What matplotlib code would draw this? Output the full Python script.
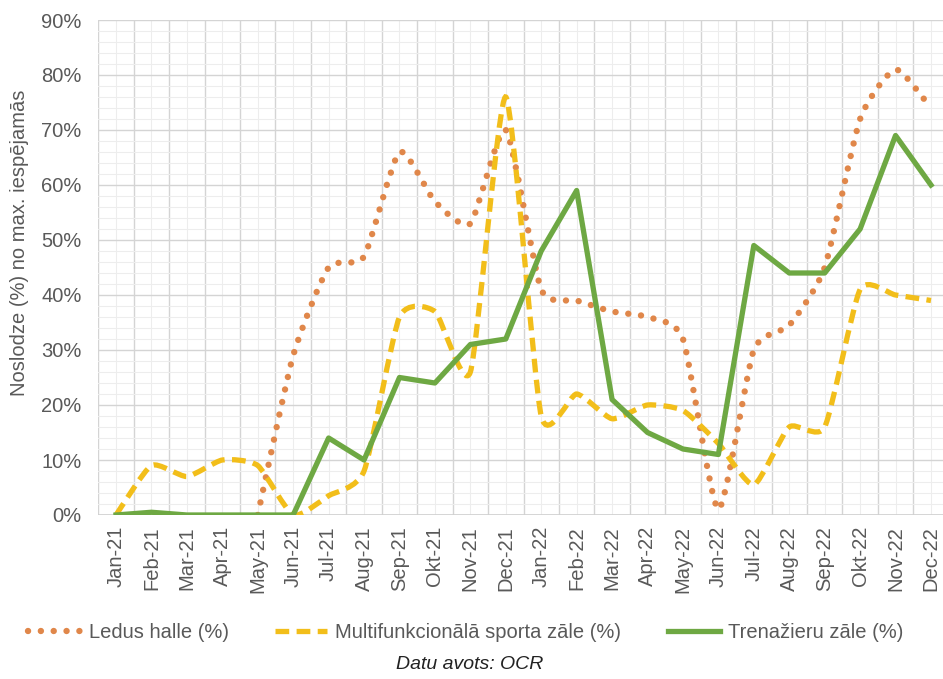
import numpy as np
import matplotlib
matplotlib.use('Agg')
import matplotlib.pyplot as plt
from matplotlib.path import Path
from matplotlib.patches import PathPatch
from matplotlib.lines import Line2D
from matplotlib.ticker import MultipleLocator, FixedLocator, PercentFormatter

months = ['Jan-21', 'Feb-21', 'Mar-21', 'Apr-21', 'May-21', 'Jun-21', 'Jul-21', 'Aug-21',
          'Sep-21', 'Okt-21', 'Nov-21', 'Dec-21', 'Jan-22', 'Feb-22', 'Mar-22', 'Apr-22',
          'May-22', 'Jun-22', 'Jul-22', 'Aug-22', 'Sep-22', 'Okt-22', 'Nov-22', 'Dec-22']

# noslodze, % no max. iespējamās
ledus_halle = [None, None, None, None, 0, 29, 45, 47, 66, 57, 53, 70,
               41, 39, 37, 36, 32, 1, 30, 34.5, 45, 72, 81, 74]
multifunkc = [0, 9, 7, 10, 9, 0, 3.5, 8, 36, 37, 26, 76,
              18, 22, 17.5, 20, 19, 13, 5.5, 16, 16, 41, 40, 39]
trenazieri = [0, 0.5, 0, 0, 0, 0, 14, 10, 25, 24, 31, 32,
              48, 59, 21, 15, 12, 11, 49, 44, 44, 52, 69, 60]

series_names = ['Ledus halle (%)', 'Multifunkcionālā sporta zāle (%)', 'Trenažieru zāle (%)']

plt.rcParams['font.family'] = ['Liberation Sans', 'DejaVu Sans']
FS = 14.5

GREY = '#595959'
ORANGE = '#E0874A'
YELLOW = '#F2BE1A'
GREEN = '#6EA843'


def smooth_path(xs, ys, k=0.1):
    """Excel-like smoothed line as cubic bezier through the points"""
    pts = np.column_stack([xs, ys]).astype(float)
    verts = [pts[0]]
    codes = [Path.MOVETO]
    n = len(pts)
    for i in range(n - 1):
        p0 = pts[i - 1] if i > 0 else pts[i]
        p1 = pts[i]
        p2 = pts[i + 1]
        p3 = pts[i + 2] if i + 2 < n else pts[i + 1]
        c1 = p1 + (p2 - p0) * k
        c2 = p2 - (p3 - p1) * k
        verts += [c1, c2, p2]
        codes += [Path.CURVE4] * 3
    return Path(verts, codes)


def valid(vals):
    idx = [i for i, v in enumerate(vals) if v is not None]
    return np.array(idx), np.array([vals[i] / 100 for i in idx])


fig = plt.figure(figsize=(9.43, 6.79), dpi=100)
ax = fig.add_axes([98.3 / 943, 1 - 515 / 679, 850.4 / 943, 495 / 679])

DOT = (0, (0.01, 2.0))
DASH = (0, (2.6, 1.4))

x1, y1 = valid(ledus_halle)
ax.add_patch(PathPatch(smooth_path(x1, y1), fill=False, edgecolor=ORANGE, lw=4.6,
                       linestyle=DOT, capstyle='round', zorder=3))

x2, y2 = valid(multifunkc)
ax.add_patch(PathPatch(smooth_path(x2, y2), fill=False, edgecolor=YELLOW, lw=3.8,
                       linestyle=DASH, capstyle='butt', zorder=4))

x3, y3 = valid(trenazieri)
ax.plot(x3, y3, color=GREEN, lw=3.8, zorder=5)

ax.set_xlim(-0.5, len(months) - 0.5)
ax.set_ylim(0, 0.9)
ax.yaxis.set_major_locator(MultipleLocator(0.1))
ax.yaxis.set_minor_locator(MultipleLocator(0.02))
ax.yaxis.set_major_formatter(PercentFormatter(1.0, decimals=0))
ax.set_xticks(range(len(months)))
ax.set_xticklabels(months, rotation=90)
ax.xaxis.set_minor_locator(FixedLocator(np.arange(-0.5, len(months), 1)))

ax.grid(False)
ax.grid(which='minor', axis='x', color='#D4D4D4', lw=1.0, zorder=0)
ax.vlines(np.arange(len(months)), 0, 0.9, color='#EDEDED', lw=0.8, zorder=0)
ax.grid(which='major', axis='y', color='#D4D4D4', lw=1.0, zorder=0)
ax.grid(which='minor', axis='y', color='#EDEDED', lw=0.8, zorder=0)
ax.set_axisbelow(True)

for s in ax.spines.values():
    s.set_visible(False)
ax.axhline(0, color='#D0D0D0', lw=1.2, zorder=1)

ax.tick_params(axis='both', which='both', length=0, colors=GREY, labelsize=FS)
ax.tick_params(axis='x', pad=8)
ax.tick_params(axis='y', pad=12)
ax.set_ylabel('Noslodze (%) no max. iespējamās', color=GREY, fontsize=FS)
ax.yaxis.set_label_coords(-0.081, 0.55)

handles = [
    Line2D([], [], color=ORANGE, lw=4.6, linestyle=DOT, dash_capstyle='round'),
    Line2D([], [], color=YELLOW, lw=3.8, linestyle=DASH),
    Line2D([], [], color=GREEN, lw=3.8),
]
leg = fig.legend(handles, series_names, loc='center', bbox_to_anchor=(0.494, 0.069),
                 ncol=3, frameon=False, fontsize=FS, handlelength=2.6,
                 columnspacing=2.3, handletextpad=0.4)
for t in leg.get_texts():
    t.set_color(GREY)

fig.text(0.498, 0.021, 'Datu avots: OCR', ha='center', va='center',
         fontsize=FS - 0.5, style='italic', color='#222222')

fig.savefig('out.png', dpi=100)
